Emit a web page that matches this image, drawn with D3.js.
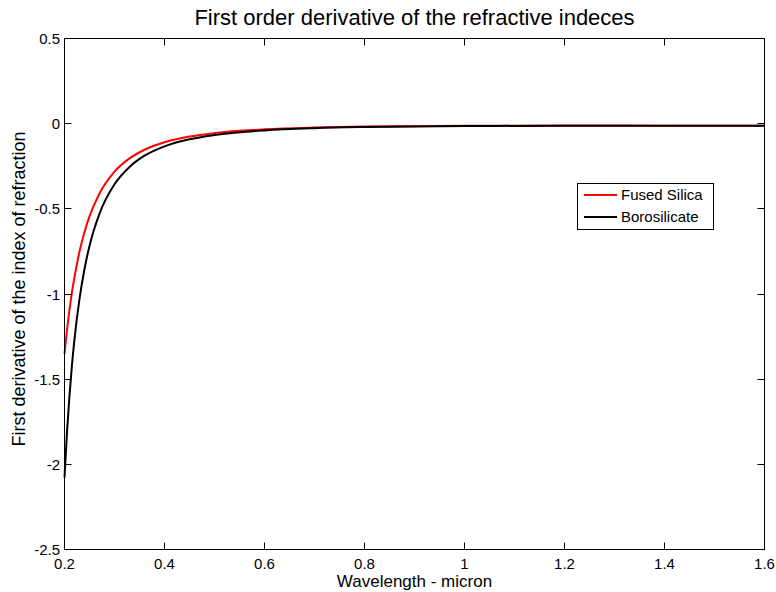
<!DOCTYPE html>
<html>
<head>
<meta charset="utf-8">
<script src="https://cdn.jsdelivr.net/npm/d3@7"></script>
<style>
  html, body { margin: 0; padding: 0; background: #fff; }
  svg { display: block; font-family: "Liberation Sans", Arial, Helvetica, sans-serif; }
</style>
</head>
<body>
<svg id="chart" width="776" height="592"></svg>
<script>
// ---- data ----
const wavelength = [0.200, 0.205, 0.210, 0.215, 0.220, 0.230, 0.240, 0.250, 0.270, 0.300, 0.330, 0.360, 0.400, 0.450, 0.500, 0.600, 0.700, 0.800, 1.000, 1.200, 1.400, 1.600];
const fusedSilica = [-1.351, -1.211, -1.092, -0.988, -0.900, -0.751, -0.636, -0.544, -0.410, -0.282, -0.204, -0.153, -0.109, -0.0758, -0.0554, -0.0333, -0.0228, -0.0173, -0.0126, -0.0114, -0.0115, -0.0122];
const borosilicate = [-2.078, -1.811, -1.595, -1.415, -1.265, -1.029, -0.853, -0.718, -0.528, -0.356, -0.254, -0.188, -0.133, -0.0915, -0.0665, -0.0395, -0.0266, -0.0198, -0.0140, -0.0123, -0.0121, -0.0127];
const seriesNames = ["Fused Silica", "Borosilicate"];
const seriesColors = ["#ff0000", "#000000"];
const xTicks = [0.2, 0.4, 0.6, 0.8, 1, 1.2, 1.4, 1.6];
const yTicks = [-2.5, -2, -1.5, -1, -0.5, 0, 0.5];
const titleText = "First order derivative of the refractive indeces";
const xLabel = "Wavelength - micron";
const yLabel = "First derivative of the index of refraction";

// ---- layout ----
const L = 64.5, R = 764.5, T = 38.5, B = 549.5;
const svg = d3.select("#chart");
const x = d3.scaleLinear().domain([0.2, 1.6]).range([L, R]);
const y = d3.scaleLinear().domain([-2.5, 0.5]).range([B, T]);

svg.append("rect").attr("width", 776).attr("height", 592).attr("fill", "#fff");

// curves
const series = [fusedSilica, borosilicate];
const line = d3.line()
  .x((d, i) => x(wavelength[i]))
  .y(d => y(d))
  .curve(d3.curveMonotoneX);

series.forEach((s, k) => {
  svg.append("path")
    .datum(s)
    .attr("d", line)
    .attr("fill", "none")
    .attr("stroke", seriesColors[k])
    .attr("stroke-width", 2);
});

// box
svg.append("rect")
  .attr("x", L).attr("y", T)
  .attr("width", R - L).attr("height", B - T)
  .attr("fill", "none").attr("stroke", "#000").attr("stroke-width", 1);

const tickLen = 7;
const fmt = d => String(d);

// x ticks (bottom + top, inward)
const xg = svg.append("g");
xTicks.forEach(t => {
  const px = Math.round(x(t) - 0.5) + 0.5;
  xg.append("line").attr("x1", px).attr("x2", px).attr("y1", B).attr("y2", B - tickLen).attr("stroke", "#000");
  xg.append("line").attr("x1", px).attr("x2", px).attr("y1", T).attr("y2", T + tickLen).attr("stroke", "#000");
  xg.append("text").attr("x", px).attr("y", 569)
    .attr("text-anchor", "middle").attr("font-size", 15).attr("fill", "#000")
    .text(fmt(t));
});

// y ticks (left + right, inward)
const yg = svg.append("g");
yTicks.forEach(t => {
  const py = Math.round(y(t) - 0.5) + 0.5;
  yg.append("line").attr("x1", L).attr("x2", L + tickLen).attr("y1", py).attr("y2", py).attr("stroke", "#000");
  yg.append("line").attr("x1", R).attr("x2", R - tickLen).attr("y1", py).attr("y2", py).attr("stroke", "#000");
  yg.append("text").attr("x", 60).attr("y", py + 5)
    .attr("text-anchor", "end").attr("font-size", 15).attr("fill", "#000")
    .text(fmt(t));
});

// title & labels
svg.append("text").attr("x", (L + R) / 2).attr("y", 25)
  .attr("text-anchor", "middle").attr("font-size", 22).attr("fill", "#000")
  .text(titleText);
svg.append("text").attr("x", (L + R) / 2).attr("y", 587)
  .attr("text-anchor", "middle").attr("font-size", 17).attr("fill", "#000")
  .text(xLabel);
svg.append("text").attr("transform", "translate(25,289) rotate(-90)")
  .attr("text-anchor", "middle").attr("font-size", 18).attr("fill", "#000")
  .text(yLabel);

// legend
const lg = svg.append("g");
lg.append("rect").attr("x", 577.5).attr("y", 183.5).attr("width", 136).attr("height", 46)
  .attr("fill", "#fff").attr("stroke", "#000").attr("stroke-width", 1);
seriesNames.forEach((name, k) => {
  const ly = 195 + k * 22;
  lg.append("line").attr("x1", 584).attr("x2", 617).attr("y1", ly).attr("y2", ly)
    .attr("stroke", seriesColors[k]).attr("stroke-width", 2);
  lg.append("text").attr("x", 621).attr("y", ly + 5)
    .attr("font-size", 15).attr("fill", "#000").text(name);
});
</script>
</body>
</html>
